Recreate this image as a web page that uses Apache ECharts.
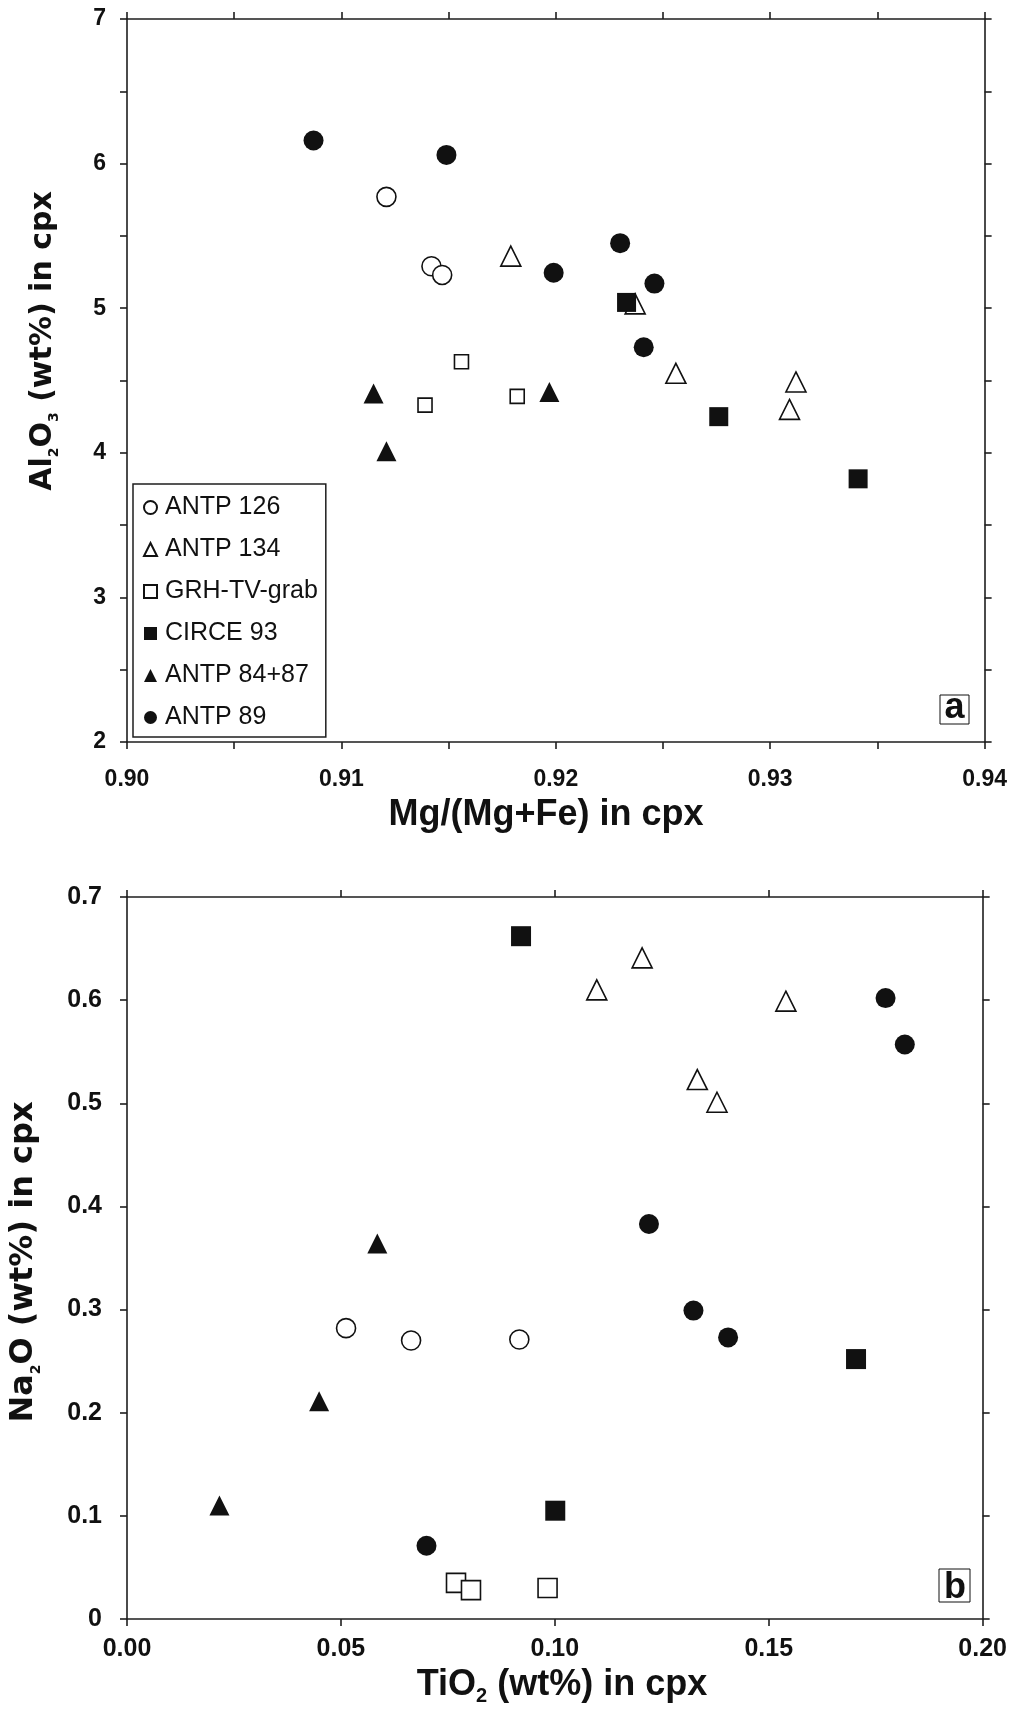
<!DOCTYPE html>
<html>
<head>
<meta charset="utf-8">
<script src="https://cdn.jsdelivr.net/npm/echarts@6.0.0/dist/echarts.min.js"></script>
<style>
  html, body { margin: 0; padding: 0; background: #ffffff; }
  #chart { width: 1010px; height: 1709px; }
</style>
</head>
<body>
<div id="chart"></div>
<script>
// Sample groups, in legend order
const sampleNames = ['ANTP 126', 'ANTP 134', 'GRH-TV-grab', 'CIRCE 93', 'ANTP 84+87', 'ANTP 89'];

// Panel a: Mg/(Mg+Fe) vs Al2O3 (wt%) in clinopyroxene
const mgAl_ANTP126 = [[0.9121, 5.77], [0.9142, 5.29], [0.9147, 5.23]];
const mgAl_ANTP134 = [[0.9179, 5.36], [0.9237, 5.03], [0.9256, 4.55], [0.9312, 4.49], [0.9309, 4.30]];
const mgAl_GRH     = [[0.9156, 4.63], [0.9139, 4.33], [0.9182, 4.39]];
const mgAl_CIRCE93 = [[0.9233, 5.04], [0.9276, 4.25], [0.9341, 3.82]];
const mgAl_ANTP8487 = [[0.9115, 4.41], [0.9197, 4.42], [0.9121, 4.01]];
const mgAl_ANTP89  = [[0.9087, 6.16], [0.9149, 6.06], [0.9230, 5.45], [0.9199, 5.245], [0.9246, 5.17], [0.9241, 4.73]];

// Panel b: TiO2 (wt%) vs Na2O (wt%) in clinopyroxene
const tiNa_ANTP126 = [[0.0512, 0.282], [0.0664, 0.270], [0.0917, 0.271]];
const tiNa_ANTP134 = [[0.1204, 0.641], [0.1098, 0.610], [0.1540, 0.599], [0.1333, 0.523], [0.1379, 0.501]];
const tiNa_GRH     = [[0.0769, 0.035], [0.0804, 0.028], [0.0983, 0.030]];
const tiNa_CIRCE93 = [[0.0921, 0.662], [0.1704, 0.252], [0.1001, 0.105]];
const tiNa_ANTP8487 = [[0.0585, 0.364], [0.0449, 0.211], [0.0216, 0.110]];
const tiNa_ANTP89  = [[0.1773, 0.602], [0.1818, 0.557], [0.1220, 0.383], [0.1324, 0.299], [0.1405, 0.273], [0.0700, 0.071]];

// Axis ranges and tick steps
const xRangeA = [0.90, 0.94], xStepA = 0.01;
const yRangeA = [2, 7], yStepA = 1;
const xRangeB = [0.00, 0.20], xStepB = 0.05;
const yRangeB = [0, 0.7], yStepB = 0.1;

const INK = '#111111';
const AXIS = '#1e1e1e';
const FONT = '"Liberation Sans", Arial, sans-serif';

const lineStyle = { color: AXIS, width: 1.6 };

const marker = {
  openCircle:   { symbol: 'circle',   itemStyle: { color: '#fff', borderColor: INK, borderWidth: 1.6, opacity: 1 } },
  openTriangle: { symbol: 'triangle', itemStyle: { color: '#fff', borderColor: INK, borderWidth: 1.6, opacity: 1 } },
  openSquare:   { symbol: 'rect',     itemStyle: { color: '#fff', borderColor: INK, borderWidth: 1.6, opacity: 1 } },
  fillSquare:   { symbol: 'rect',     itemStyle: { color: INK, opacity: 1 } },
  fillTriangle: { symbol: 'triangle', itemStyle: { color: INK, opacity: 1 } },
  fillCircle:   { symbol: 'circle',   itemStyle: { color: INK, opacity: 1 } }
};

function scatter(name, data, axisIdx, style, size) {
  return {
    name: name,
    type: 'scatter',
    xAxisIndex: axisIdx,
    yAxisIndex: axisIdx,
    data: data,
    symbol: style.symbol,
    symbolSize: size,
    itemStyle: style.itemStyle,
    emphasis: { disabled: true },
    z: 3
  };
}

function valueAxis(opts) {
  const showLabel = opts.label !== false;
  return {
    type: 'value',
    gridIndex: opts.grid,
    position: opts.position,
    min: opts.range[0],
    max: opts.range[1],
    interval: opts.step,
    axisLine: { show: true, onZero: false, lineStyle: lineStyle },
    axisTick: { show: true, length: 7, lineStyle: lineStyle },
    minorTick: opts.minor ? { show: true, splitNumber: 2, length: 7, lineStyle: lineStyle } : { show: false },
    splitLine: { show: false },
    axisLabel: showLabel ? {
      show: true,
      margin: opts.margin,
      fontSize: opts.fontSize,
      fontWeight: 'bold',
      fontFamily: FONT,
      color: INK,
      formatter: opts.formatter
    } : { show: false }
  };
}

const fmt2 = v => v.toFixed(2);
const fmtInt = v => String(Math.round(v));
const fmt1 = v => (Math.abs(v) < 1e-9 ? '0' : v.toFixed(1));

const option = {
  backgroundColor: '#ffffff',
  animation: false,
  grid: [
    { left: 127, top: 19, width: 861, height: 723 },
    { left: 127, top: 897, width: 861, height: 722 }
  ],
  xAxis: [
    valueAxis({ grid: 0, position: 'bottom', range: xRangeA, step: xStepA, minor: true, margin: 26, fontSize: 23, formatter: fmt2 }),
    valueAxis({ grid: 0, position: 'top', range: xRangeA, step: xStepA, minor: true, label: false }),
    valueAxis({ grid: 1, position: 'bottom', range: xRangeB, step: xStepB, minor: false, margin: 18, fontSize: 25, formatter: fmt2 }),
    valueAxis({ grid: 1, position: 'top', range: xRangeB, step: xStepB, minor: false, label: false })
  ],
  yAxis: [
    valueAxis({ grid: 0, position: 'left', range: yRangeA, step: yStepA, minor: true, margin: 21, fontSize: 23, formatter: fmtInt }),
    valueAxis({ grid: 0, position: 'right', range: yRangeA, step: yStepA, minor: true, label: false }),
    valueAxis({ grid: 1, position: 'left', range: yRangeB, step: yStepB, minor: false, margin: 25, fontSize: 25, formatter: fmt1 }),
    valueAxis({ grid: 1, position: 'right', range: yRangeB, step: yStepB, minor: false, label: false })
  ],
  legend: {
    data: sampleNames,
    orient: 'vertical',
    left: 133,
    top: 484,
    padding: [11, 8, 7, 10],
    itemGap: 17,
    itemWidth: 13,
    itemHeight: 13,
    backgroundColor: '#ffffff',
    borderColor: AXIS,
    borderWidth: 1.5,
    selectedMode: false,
    textStyle: { fontFamily: FONT, fontSize: 25, color: INK, padding: [0, 0, 0, 3] }
  },
  series: [
    scatter('ANTP 126', mgAl_ANTP126, 0, marker.openCircle, 19),
    scatter('ANTP 134', mgAl_ANTP134, 0, marker.openTriangle, 20),
    scatter('GRH-TV-grab', mgAl_GRH, 0, marker.openSquare, 14),
    scatter('CIRCE 93', mgAl_CIRCE93, 0, marker.fillSquare, 19),
    scatter('ANTP 84+87', mgAl_ANTP8487, 0, marker.fillTriangle, 20),
    scatter('ANTP 89', mgAl_ANTP89, 0, marker.fillCircle, 20),

    scatter('ANTP 126', tiNa_ANTP126, 2, marker.openCircle, 19),
    scatter('ANTP 134', tiNa_ANTP134, 2, marker.openTriangle, 20),
    scatter('GRH-TV-grab', tiNa_GRH, 2, marker.openSquare, 19),
    scatter('CIRCE 93', tiNa_CIRCE93, 2, marker.fillSquare, 20),
    scatter('ANTP 84+87', tiNa_ANTP8487, 2, marker.fillTriangle, 20),
    scatter('ANTP 89', tiNa_ANTP89, 2, marker.fillCircle, 20)
  ],
  graphic: [
    // y-axis title, panel a
    {
      type: 'text', x: 43, y: 341, rotation: Math.PI / 2,
      style: {
        text: '{m|Al}{s|2}{m|O}{s|3}{m| (wt%) in cpx}',
        align: 'center', verticalAlign: 'middle',
        rich: {
          m: { fontFamily: '"DejaVu Sans", sans-serif', fontWeight: 'bold', fontSize: 30, lineHeight: 36, fill: INK },
          s: { fontFamily: '"DejaVu Sans", sans-serif', fontWeight: 'bold', fontSize: 14, lineHeight: 24, verticalAlign: 'bottom', fill: INK }
        }
      }
    },
    // x-axis title, panel a
    {
      type: 'text', x: 546, y: 815,
      style: {
        text: 'Mg/(Mg+Fe) in cpx',
        align: 'center', verticalAlign: 'middle',
        fontFamily: FONT, fontWeight: 'bold', fontSize: 36, fill: INK
      }
    },
    // y-axis title, panel b
    {
      type: 'text', x: 24, y: 1262, rotation: Math.PI / 2,
      style: {
        text: '{m|Na}{s|2}{m|O (wt%) in cpx}',
        align: 'center', verticalAlign: 'middle',
        rich: {
          m: { fontFamily: '"DejaVu Sans", sans-serif', fontWeight: 'bold', fontSize: 32, lineHeight: 38, fill: INK },
          s: { fontFamily: '"DejaVu Sans", sans-serif', fontWeight: 'bold', fontSize: 14, lineHeight: 13, verticalAlign: 'bottom', fill: INK }
        }
      }
    },
    // x-axis title, panel b
    {
      type: 'text', x: 562, y: 1685,
      style: {
        text: '{m|TiO}{s|2}{m| (wt%) in cpx}',
        align: 'center', verticalAlign: 'middle',
        rich: {
          m: { fontFamily: FONT, fontWeight: 'bold', fontSize: 36, lineHeight: 42, fill: INK },
          s: { fontFamily: FONT, fontWeight: 'bold', fontSize: 20, lineHeight: 29, verticalAlign: 'bottom', fill: INK }
        }
      }
    },
    // panel letters
    {
      type: 'group', children: [
        { type: 'rect', shape: { x: 940, y: 695, width: 29, height: 29 }, style: { fill: '#fff', stroke: INK, lineWidth: 1 } },
        { type: 'text', x: 954.5, y: 708, style: { text: 'a', align: 'center', verticalAlign: 'middle', fontFamily: FONT, fontWeight: 'bold', fontSize: 36, fill: INK } }
      ]
    },
    {
      type: 'group', children: [
        { type: 'rect', shape: { x: 939, y: 1569, width: 31, height: 33 }, style: { fill: '#fff', stroke: INK, lineWidth: 1 } },
        { type: 'text', x: 955, y: 1588, style: { text: 'b', align: 'center', verticalAlign: 'middle', fontFamily: FONT, fontWeight: 'bold', fontSize: 36, fill: INK } }
      ]
    }
  ]
};

const chart = echarts.init(document.getElementById('chart'), null, { renderer: 'canvas' });
chart.setOption(option);
</script>
</body>
</html>
